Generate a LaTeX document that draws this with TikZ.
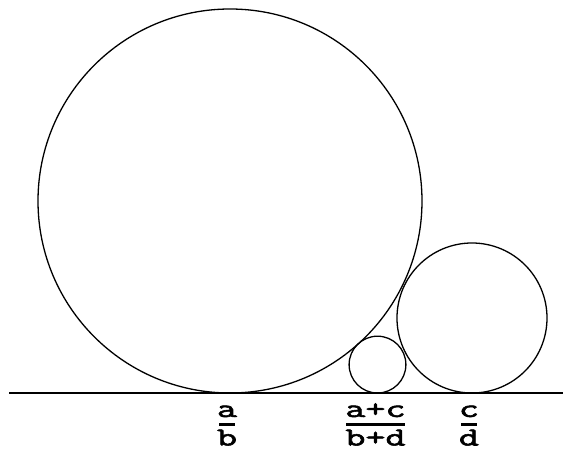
\documentclass[tikz,border=0pt]{standalone}
\usepackage{fontspec}
\newfontfamily\lblfont[FakeBold=2]{Latin Modern Mono}
\begin{document}
\begin{tikzpicture}[x=1pt,y=-1pt,
  circ/.style={draw=black,line width=1.3pt},
  lbl/.style={font=\fontsize{26}{28}\lblfont,inner sep=0pt,anchor=base,text depth=0pt},
  bar/.style={line width=3pt}]
\useasboundingbox (0,0) rectangle (563,449);
\draw[circ] (230,201) circle[radius=192];
\draw[circ] (472,318) circle[radius=75];
\draw[circ] (377.5,364.6) circle[radius=28.4];
\coordinate (L) at (9,393);
\coordinate (R) at (563,393);
\draw[line width=2.2pt] (L) -- (R);
\node[lbl] (n1) at (227,417) {\scalebox{1.5}[1]{a}};
\node[lbl] (d1) at (227,445.5) {\scalebox{1.5}[1]{b}};
\node[lbl] (n2) at (375.5,417) {\scalebox{1.5}[1]{a+c}};
\node[lbl] (d2) at (375.5,445.5) {\scalebox{1.5}[1]{b+d}};
\node[lbl] (n3) at (469,417) {\scalebox{1.5}[1]{c}};
\node[lbl] (d3) at (469,445.5) {\scalebox{1.5}[1]{d}};
\draw[bar] (219,425) -- (235,425);
\draw[bar] (346,425) -- (405,425);
\draw[bar] (461,425) -- (477,425);
\end{tikzpicture}
\end{document}
